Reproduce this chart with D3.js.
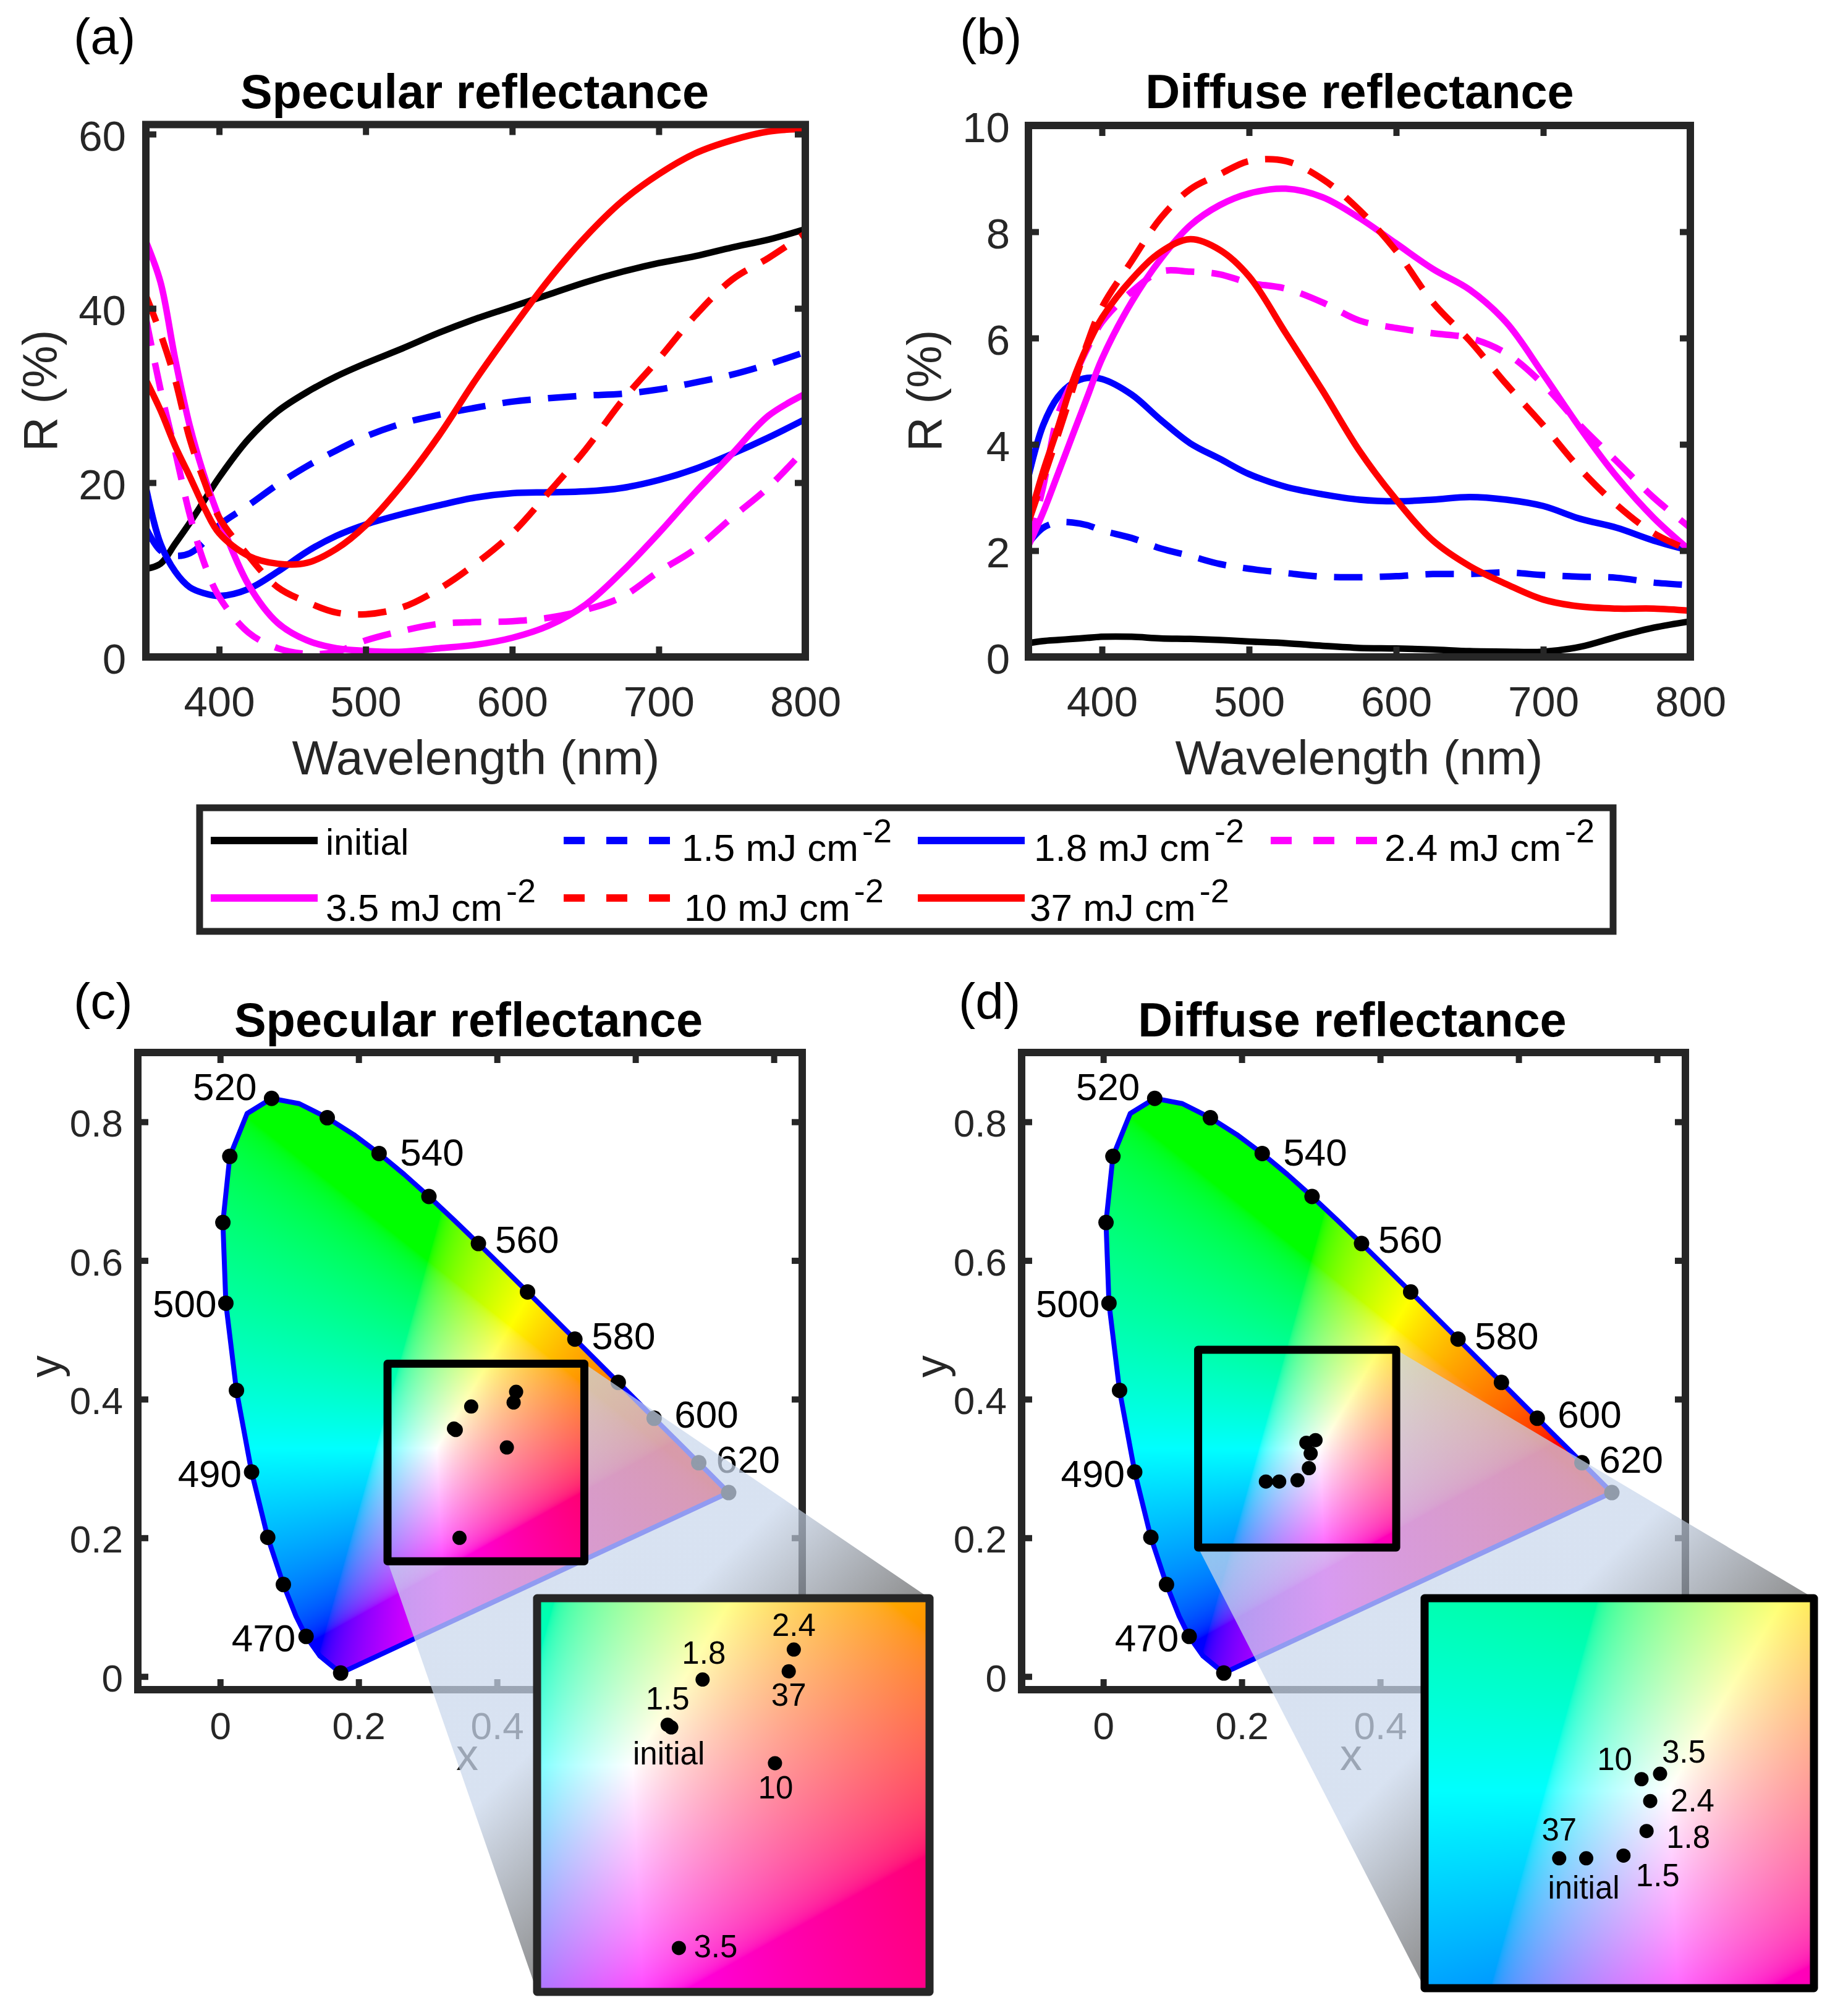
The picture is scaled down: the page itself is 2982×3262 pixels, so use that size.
<!DOCTYPE html>
<html>
<head>
<meta charset="utf-8">
<script src="https://cdn.jsdelivr.net/npm/d3@7"></script>
<style>
  body { margin: 0; background: #fff; }
  text { font-family: "Liberation Sans", Arial, sans-serif; }
</style>
</head>
<body>
<svg id="fig" width="2982" height="3262"></svg>
<script>
// wavelength grid used for all the reflectance curves
const wave = [350,360,370,380,390,400,420,440,460,480,500,525,550,575,600,625,650,675,700,725,750,775,800];

const seriesNames = ["initial","1.5 mJ cm","1.8 mJ cm","2.4 mJ cm","3.5 mJ cm","10 mJ cm","37 mJ cm"];
const seriesColors = ["#000000","#0000ff","#0000ff","#ff00ff","#ff00ff","#ff0000","#ff0000"];
const seriesDashed = [false,true,false,true,false,true,false];

// (a) specular reflectance
const specInitial = [10.1,10.7,13,15.4,18,20.6,25,28.2,30.4,32.2,33.7,35.4,37.2,38.8,40.2,41.6,43,44.2,45.2,46,47,47.9,49.1];
const spec15 = [14.8,12.2,11.6,11.9,13.2,15.1,17.4,19.8,21.9,23.7,25.3,26.8,27.8,28.6,29.3,29.7,30,30.2,30.7,31.5,32.4,33.6,35];
const spec18 = [19.5,13,9.8,8,7.3,7,7.8,9.8,12.1,13.9,15.2,16.4,17.4,18.3,18.8,18.9,19,19.4,20.3,21.6,23.3,25.2,27.3];
const spec24 = [38.9,30.7,23.6,16.3,10.7,6.9,2.8,1,0.35,0.6,1.9,3,3.8,4,4.1,4.5,5.4,6.9,9.8,12.4,16,19.5,23.9];
const spec35 = [47.7,43,34.2,26.5,20.7,16,8.3,3.9,1.9,1,0.7,0.6,1,1.4,2.2,3.6,6,9.8,14.2,18.9,23.3,27.7,30.2];
const spec10 = [41.5,37.1,31.8,25,20.1,16,11.6,8,6.3,5.1,4.9,5.7,7.8,10.7,14.2,18.9,23.8,29.4,34.2,39.2,43.3,45.8,48.6];
const spec37 = [31.8,28.3,24.2,20.7,17.1,14.2,11.6,10.7,10.8,12.4,15.1,19.8,25.4,31.8,37.7,43.3,48.2,52.3,55.4,57.8,59.3,60.3,60.6];

// (b) diffuse reflectance
const diffInitial = [0.26,0.3,0.32,0.34,0.36,0.38,0.38,0.35,0.34,0.32,0.29,0.26,0.21,0.17,0.16,0.14,0.11,0.1,0.1,0.19,0.38,0.55,0.67];
const diff15 = [2.14,2.43,2.53,2.53,2.48,2.38,2.24,2.04,1.9,1.75,1.66,1.58,1.51,1.5,1.52,1.56,1.56,1.59,1.54,1.51,1.49,1.4,1.35];
const diff18 = [3.39,4.36,4.89,5.15,5.25,5.23,4.94,4.46,4.02,3.73,3.44,3.2,3.06,2.96,2.93,2.96,3.01,2.96,2.84,2.6,2.43,2.19,2];
const diff24 = [2.1,3.2,4.55,5.2,5.8,6.3,6.87,7.25,7.25,7.2,7.04,6.93,6.67,6.33,6.19,6.09,6,5.71,5.13,4.36,3.68,3,2.43];
const diff35 = [2.09,2.72,3.44,4.17,4.89,5.61,6.67,7.49,8.12,8.5,8.72,8.81,8.65,8.26,7.78,7.3,6.91,6.29,5.32,4.31,3.39,2.62,2];
const diff10 = [2.53,3.35,4.17,5.03,5.9,6.58,7.44,8.26,8.8,9.08,9.33,9.33,8.99,8.41,7.64,6.67,5.95,5.13,4.36,3.54,2.86,2.33,2];
const diff37 = [2.53,3.49,4.31,5.18,5.85,6.38,7.1,7.62,7.86,7.66,7.16,6.09,5.01,3.88,2.96,2.19,1.71,1.37,1.08,0.95,0.91,0.91,0.87];

const specSeries = [specInitial,spec15,spec18,spec24,spec35,spec10,spec37];
const diffSeries = [diffInitial,diff15,diff18,diff24,diff35,diff10,diff37];

const waveTicks = [400,500,600,700,800];
const specTicks = [0,20,40,60];
const diffTicks = [0,2,4,6,8,10];
const cieTicks = [0,0.2,0.4,0.6,0.8];

// spectral locus, outline of the chromaticity diagram
const locusX = [0.1741,0.1440,0.1241,0.1096,0.0913,0.0687,0.0454,0.0235,0.0082,0.0039,0.0139,0.0389,0.0743,0.1142,0.1547,0.1929,0.2296,0.2658,0.3016,0.3373,0.3731,0.4087,0.4441,0.4788,0.5125,0.5448,0.5752,0.6029,0.6270,0.6482,0.6658,0.6915,0.7079,0.7190,0.7347];
const locusY = [0.0050,0.0297,0.0578,0.0868,0.1327,0.2007,0.2950,0.4127,0.5384,0.6548,0.7502,0.8120,0.8338,0.8262,0.8059,0.7816,0.7543,0.7243,0.6923,0.6589,0.6245,0.5896,0.5547,0.5202,0.4866,0.4544,0.4242,0.3965,0.3725,0.3514,0.3340,0.3083,0.2920,0.2809,0.2653];
const locusDots = [0,2,4,5,6,7,8,9,10,12,14,16,18,20,22,24,26,28,31,34];
const locusLabels = ["520","540","560","580","600","620","500","490","470"];
const locusLabelIdx = [12,16,20,24,28,31,8,6,2];

const doseLabels = ["initial","1.5","1.8","2.4","3.5","10","37"];
const specX = [0.3404,0.3378,0.3627,0.4276,0.3458,0.4142,0.4240];
const specY = [0.3556,0.3575,0.3894,0.4106,0.2000,0.3304,0.3952];
const diffX = [0.2541,0.2806,0.2970,0.2996,0.3066,0.2934,0.2349];
const diffY = [0.2812,0.2831,0.3005,0.3217,0.3410,0.3372,0.2812];

const svg = d3.select("#fig");
const defs = svg.append("defs");
const dark = "#262626";

function styleAxis(g, size) {
  g.select(".domain").remove();
  g.selectAll("line").attr("stroke", dark).attr("stroke-width", 10);
  g.selectAll("text").attr("fill", dark).attr("font-size", size).attr("font-family", "Liberation Sans");
}

// frame with inward ticks on all four sides
function drawAxes(x, y, xTicks, yTicks, fontSize, padX, padY, tickFmt) {
  const [x0, x1] = x.range(), [y0, y1] = y.range();
  const bottom = svg.append("g").attr("transform", `translate(0,${y0})`)
    .call(d3.axisBottom(x).tickValues(xTicks).tickSizeInner(-17).tickSizeOuter(0).tickPadding(padX).tickFormat(tickFmt));
  styleAxis(bottom, fontSize);
  const left = svg.append("g").attr("transform", `translate(${x0},0)`)
    .call(d3.axisLeft(y).tickValues(yTicks).tickSizeInner(-17).tickSizeOuter(0).tickPadding(padY).tickFormat(tickFmt));
  styleAxis(left, fontSize);
  left.selectAll("text").attr("dy", ".38em");
  const top = svg.append("g").attr("transform", `translate(0,${y1})`)
    .call(d3.axisTop(x).tickValues(xTicks).tickSizeInner(-17).tickSizeOuter(0).tickFormat(""));
  styleAxis(top, fontSize);
  const right = svg.append("g").attr("transform", `translate(${x1},0)`)
    .call(d3.axisRight(y).tickValues(yTicks).tickSizeInner(-17).tickSizeOuter(0).tickFormat(""));
  styleAxis(right, fontSize);
  svg.append("rect")
    .attr("x", x0).attr("y", y1).attr("width", x1 - x0).attr("height", y0 - y1)
    .attr("fill", "none").attr("stroke", dark).attr("stroke-width", 12);
}

function label(txt, x, y, size, opts = {}) {
  const t = svg.append("text")
    .attr("x", x).attr("y", y).attr("font-size", size)
    .attr("text-anchor", opts.anchor || "start")
    .attr("font-weight", opts.bold ? "bold" : "normal")
    .attr("fill", opts.fill || "#000")
    .text(txt);
  if (opts.rotate) t.attr("transform", `rotate(-90,${x},${y})`);
  return t;
}

function reflectancePanel(series, xRange, yRange, yMax, yTicks, fmt, tickRight) {
  const x = d3.scaleLinear().domain([350, 800]).range(xRange);
  const y = d3.scaleLinear().domain([0, yMax]).range(yRange);
  const line = d3.line()
    .x((d, i) => x(wave[i]))
    .y(d => y(d))
    .curve(d3.curveCatmullRom.alpha(0.5));
  svg.append("g").selectAll("path").data(series).join("path")
    .attr("d", line)
    .attr("fill", "none")
    .attr("stroke", (d, i) => seriesColors[i])
    .attr("stroke-width", 10.5)
    .attr("stroke-dasharray", (d, i) => seriesDashed[i] ? "46 28" : null);
  drawAxes(x, y, waveTicks, yTicks, 69, 47, xRange[0] - tickRight, fmt);
}

// xy -> sRGB, out of gamut colours clipped and normalised
function xyToRgb(cx, cy) {
  const X = cx / cy, Z = (1 - cx - cy) / cy;
  let r = 3.2406 * X - 1.5372 - 0.4986 * Z;
  let g = -0.9689 * X + 1.8758 + 0.0415 * Z;
  let b = 0.0557 * X - 0.2040 + 1.0570 * Z;
  r = Math.max(r, 0); g = Math.max(g, 0); b = Math.max(b, 0);
  const m = Math.max(r, g, b) || 1;
  const gam = c => { c = c / m; return 255 * (c <= 0.0031308 ? 12.92 * c : 1.055 * Math.pow(c, 1 / 2.4) - 0.055); };
  return [gam(r), gam(g), gam(b)];
}

function chromaImage(x, y, clipId) {
  const [x0, x1] = x.range(), [y0, y1] = y.range();
  const w = Math.round(x1 - x0), h = Math.round(y0 - y1);
  const cv = document.createElement("canvas");
  cv.width = w; cv.height = h;
  const ctx = cv.getContext("2d");
  const img = ctx.createImageData(w, h);
  for (let j = 0; j < h; j++) {
    const cy = Math.max(y.invert(y1 + j + 0.5), 0.001);
    for (let i = 0; i < w; i++) {
      const c = xyToRgb(x.invert(x0 + i + 0.5), cy);
      const k = 4 * (j * w + i);
      img.data[k] = c[0]; img.data[k + 1] = c[1]; img.data[k + 2] = c[2]; img.data[k + 3] = 255;
    }
  }
  ctx.putImageData(img, 0, 0);
  const im = svg.append("image")
    .attr("x", x0).attr("y", y1).attr("width", w).attr("height", h)
    .attr("href", cv.toDataURL());
  if (clipId) im.attr("clip-path", `url(#${clipId})`);
}

function ciePanel(p) {
  const x = d3.scaleLinear().domain(p.xDom).range(p.xRange);
  const y = d3.scaleLinear().domain(p.yDom).range(p.yRange);
  const fmt = d => d === 0 ? "0" : d3.format(".1f")(d);
  drawAxes(x, y, cieTicks, cieTicks, 62, 36, 24, fmt);
  label("x", p.xLabelX, 2864, 72, { anchor: "middle", fill: dark });
  label("y", p.yLabelX, 2211, 72, { anchor: "middle", fill: dark, rotate: true });

  const locusLine = d3.line().x((d, i) => x(locusX[i])).y((d, i) => y(locusY[i])).curve(d3.curveLinearClosed);
  defs.append("clipPath").attr("id", p.id).append("path").attr("d", locusLine(locusX));
  chromaImage(x, y, p.id);
  svg.append("path").attr("d", locusLine(locusX))
    .attr("fill", "none").attr("stroke", "#0000ff").attr("stroke-width", 8).attr("stroke-linejoin", "round");
  svg.append("g").selectAll("circle").data(locusDots).join("circle")
    .attr("cx", d => x(locusX[d])).attr("cy", d => y(locusY[d])).attr("r", 12.5).attr("fill", "#000");

  // wavelength labels beside the locus dots
  const off = [[-24,3,"end"],[34,20,"start"],[27,15,"start"],[27,16,"start"],[33,15,"start"],[28,16,"start"],[-15,22,"end"],[-16,24,"end"],[-17,24,"end"]];
  locusLabels.forEach((t, i) => {
    const k = locusLabelIdx[i];
    label(t, x(locusX[k]) + off[i][0], y(locusY[k]) + off[i][1], 62, { anchor: off[i][2] });
  });

  // zoom wedge between the small box and the inset
  const inset = p.inset;
  const bx0 = x(p.boxX[0]), bx1 = x(p.boxX[1]), by0 = y(p.boxY[0]), by1 = y(p.boxY[1]);
  const sum = inset.x1 + inset.y0, g0 = (sum - 398) / 2, g1 = sum / 2;
  const grad = defs.append("linearGradient").attr("id", p.id + "w")
    .attr("gradientUnits", "userSpaceOnUse")
    .attr("x1", g0).attr("y1", g0).attr("x2", g1).attr("y2", g1);
  grad.append("stop").attr("offset", 0).attr("stop-color", "rgb(201,215,236)").attr("stop-opacity", 0.72);
  grad.append("stop").attr("offset", 1).attr("stop-color", "rgb(96,96,96)").attr("stop-opacity", 0.72);
  svg.append("path")
    .attr("d", `M${bx1},${by1}L${inset.x1},${inset.y0}L${inset.x1},${inset.y1}L${inset.x0},${inset.y1}L${bx0},${by0}Z`)
    .attr("fill", `url(#${p.id}w)`);

  // small box, same colours as the diagram underneath
  const sx = d3.scaleLinear().domain(p.boxX).range([bx0, bx1]);
  const sy = d3.scaleLinear().domain(p.boxY).range([by0, by1]);
  chromaImage(sx, sy);
  svg.append("rect").attr("x", bx0).attr("y", by1).attr("width", bx1 - bx0).attr("height", by0 - by1)
    .attr("fill", "none").attr("stroke", "#000").attr("stroke-width", 13).attr("stroke-linejoin", "round");
  svg.append("g").selectAll("circle").data(p.ptsX).join("circle")
    .attr("cx", d => x(d)).attr("cy", (d, i) => y(p.ptsY[i])).attr("r", 11.5).attr("fill", "#000");

  // inset, the small box magnified
  const ix = d3.scaleLinear().domain(p.insetX).range([inset.x0, inset.x1]);
  const iy = d3.scaleLinear().domain(p.insetY).range([inset.y1, inset.y0]);
  chromaImage(ix, iy);
  svg.append("rect").attr("x", inset.x0).attr("y", inset.y0).attr("width", inset.x1 - inset.x0).attr("height", inset.y1 - inset.y0)
    .attr("fill", "none").attr("stroke", inset.stroke).attr("stroke-width", 13).attr("stroke-linejoin", "round");
  svg.append("g").selectAll("circle").data(p.ptsX).join("circle")
    .attr("cx", d => ix(d)).attr("cy", (d, i) => iy(p.ptsY[i])).attr("r", 11.5).attr("fill", "#000");
  doseLabels.forEach((t, i) => {
    const o = p.offsets[i];
    label(t, ix(p.ptsX[i]) + o[0], iy(p.ptsY[i]) + o[1], 51, { anchor: o[2] });
  });
}

// ---- panels (a), (b)
reflectancePanel(specSeries, [236, 1303], [1063, 201.5], 61.1, specTicks, d3.format("d"), 204);
reflectancePanel(diffSeries, [1664, 2735], [1063, 203], 10, diffTicks, d3.format("d"), 1634);

label("(a)", 119, 87, 82);
label("(b)", 1553, 87, 82);
label("Specular reflectance", 768, 175, 77.5, { anchor: "middle", bold: true });
label("Diffuse reflectance", 2200, 175, 77.5, { anchor: "middle", bold: true });
label("Wavelength (nm)", 770, 1253, 78.5, { anchor: "middle", fill: dark });
label("Wavelength (nm)", 2199, 1253, 78.5, { anchor: "middle", fill: dark });
label("R (%)", 92, 632, 77, { anchor: "middle", fill: dark, rotate: true });
label("R (%)", 1523, 632, 77, { anchor: "middle", fill: dark, rotate: true });

// ---- legend
svg.append("rect").attr("x", 323).attr("y", 1307).attr("width", 2287).attr("height", 200)
  .attr("fill", "#fff").attr("stroke", dark).attr("stroke-width", 11);
const legendRow = [0,0,0,0,1,1,1];
const legendLineX = [341,912,1485,2056,341,912,1485];
const legendTextX = [527,1103,1673,2240,527,1107,1666];
const legendLineY = [1360,1453];
const legendBase = [1393,1490];
seriesNames.forEach((name, i) => {
  const ly = legendLineY[legendRow[i]];
  svg.append("line")
    .attr("x1", legendLineX[i]).attr("x2", legendLineX[i] + 173).attr("y1", ly).attr("y2", ly)
    .attr("stroke", seriesColors[i]).attr("stroke-width", 12)
    .attr("stroke-dasharray", seriesDashed[i] ? "34 35" : null);
  const base = i === 0 ? 1383 : legendBase[legendRow[i]];
  const t = label(name, legendTextX[i], base, i === 0 ? 59 : 62);
  if (i > 0) t.append("tspan").attr("dx", 6).attr("dy", -30).attr("font-size", 54).text("-2");
});

// ---- panels (c), (d)
const specOffsets = [[-4,60,"middle"],[0,-25,"middle"],[2,-26,"middle"],[0,-22,"middle"],[24,15,"start"],[1,57,"middle"],[0,56,"middle"]];
const diffOffsets = [[-4,65,"middle"],[20,50,"start"],[32,27,"start"],[33,17,"start"],[3,-18,"start"],[-15,-15,"end"],[0,-29,"middle"]];

ciePanel({
  id: "cieC", xRange: [223, 1298], yRange: [2734, 1703], xDom: [-0.119, 0.841], yDom: [-0.019, 0.9],
  boxX: [0.2418, 0.5262], boxY: [0.1662, 0.4512],
  insetX: [0.2449, 0.5242], insetY: [0.169, 0.4468],
  inset: { x0: 869, x1: 1504, y0: 2586, y1: 3223, stroke: dark },
  ptsX: specX, ptsY: specY, offsets: specOffsets, xLabelX: 756, yLabelX: 98
});
ciePanel({
  id: "cieD", xRange: [1653, 2727], yRange: [2734, 1703], xDom: [-0.118, 0.841], yDom: [-0.019, 0.9],
  boxX: [0.137, 0.4232], boxY: [0.186, 0.4712],
  insetX: [0.1392, 0.416], insetY: [0.1893, 0.4652],
  inset: { x0: 2305, x1: 2935, y0: 2586, y1: 3217, stroke: "#000" },
  ptsX: diffX, ptsY: diffY, offsets: diffOffsets, xLabelX: 2186, yLabelX: 1531
});

label("(c)", 119, 1648, 82);
label("(d)", 1551, 1648, 82);
label("Specular reflectance", 758, 1677, 77.5, { anchor: "middle", bold: true });
label("Diffuse reflectance", 2188, 1677, 77.5, { anchor: "middle", bold: true });
</script>
</body>
</html>
